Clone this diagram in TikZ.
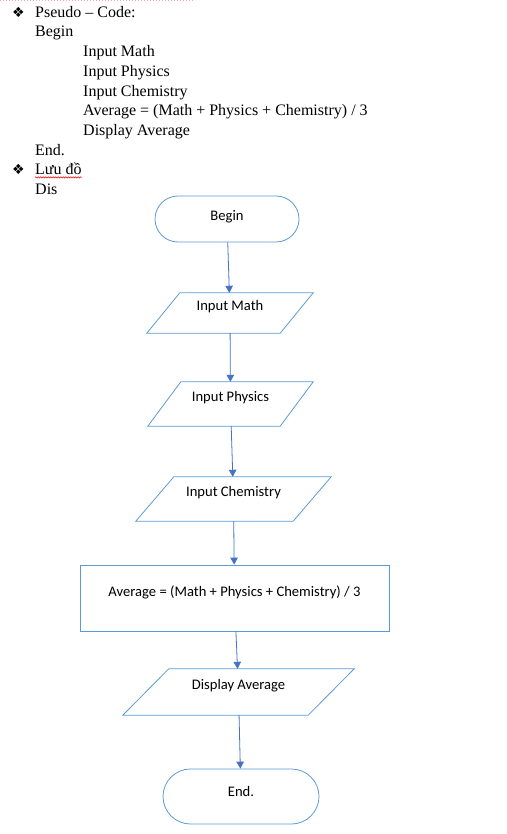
\documentclass[tikz,border=0pt]{standalone}
\usepackage{fontspec}
\setmainfont{Liberation Serif}
\newfontfamily\chartfont{Carlito}
\newfontfamily\dingfont{DejaVu Sans}
\usetikzlibrary{arrows.meta,decorations.pathmorphing}
\definecolor{lineblue}{HTML}{5B9BD5}
\definecolor{arrowblue}{HTML}{4472C4}

\begin{document}
\begin{tikzpicture}[
    x=1pt, y=-1pt,
    codeline/.style={anchor=base west, inner sep=0pt, font=\fontsize{16}{20}\selectfont},
    bulletsym/.style={anchor=base west, inner sep=0pt, font=\dingfont\fontsize{14}{16}\selectfont},
    every label/.style={font=\chartfont\fontsize{14.6}{17}\selectfont, inner sep=0pt},
    terminal/.style={draw=lineblue, line width=0.8pt, inner sep=0pt},
    io/.style={rectangle, inner sep=0pt,
        append after command={\pgfextra{\draw[lineblue, line width=0.8pt]
            ([xshift=#1/2]\tikzlastnode.north west) -- ([xshift=#1/2]\tikzlastnode.north east)
            -- ([xshift=-#1/2]\tikzlastnode.south east) -- ([xshift=-#1/2]\tikzlastnode.south west)
            -- cycle;}}},
    process/.style={rectangle, draw=lineblue, line width=0.8pt, inner sep=0pt},
    arrow/.style={draw=arrowblue, line width=0.8pt, -{Triangle[width=7.5pt,length=7pt]}}
]
\useasboundingbox (0,0) rectangle (506,834);

% spell check marks
\draw[red!35, dotted, line width=1pt] (0,0.8) -- (195,0.8);

% pseudo code
\node[bulletsym] (b1) at (12,17.3) {❖};
\node[codeline] (pseudo) at (35,17.3) {Pseudo – Code:};
\node[codeline] (cbegin) at (35,37) {Begin};
\node[codeline] (cmath) at (83,56.7) {Input Math};
\node[codeline] (cphys) at (83,76.4) {Input Physics};
\node[codeline] (cchem) at (83,96.1) {Input Chemistry};
\node[codeline] (cavg) at (83,115.8) {Average = (Math + Physics + Chemistry) / 3};
\node[codeline] (cdisp) at (83,135.5) {Display Average};
\node[codeline] (cend) at (35,155.2) {End.};
\node[bulletsym] (b2) at (12,174.9) {❖};
\node[codeline] (luudo) at (35,174.9) {Lưu đồ};
\node[codeline] (dis) at (35,194.6) {Dis};
\draw[red, line width=0.5pt, decorate, decoration={snake, amplitude=0.7pt, segment length=2.5pt}]
    ([yshift=-2.5pt]luudo.base west) -- ([yshift=-2.5pt]luudo.base east);

% flowchart
\node[terminal, minimum width=144, minimum height=46, rounded corners=23,
      label={[yshift=2.5]center:Begin}] (begin) at (227,219) {};
\node[io=33, minimum width=133, minimum height=40,
      label={[yshift=6]center:Input Math}] (math) at (230,313) {};
\node[io=33, minimum width=132, minimum height=44,
      label={[yshift=6]center:Input Physics}] (phys) at (230.5,404) {};
\node[io=38, minimum width=157, minimum height=44,
      label={[yshift=6]center:Input Chemistry}] (chem) at (233.5,499) {};
\node[process, minimum width=309, minimum height=66,
      label={[yshift=6]center:Average = (Math + Physics + Chemistry) / 3}] (avg) at (234.5,598) {};
\node[io=46, minimum width=185, minimum height=46,
      label={[yshift=6]center:Display Average}] (disp) at (238.5,692) {};
\node[terminal, minimum width=156, minimum height=55, rounded corners=27.5,
      label={[yshift=5]center:End.}] (end) at (241,796.5) {};

\draw[arrow] (begin) -- (math);
\draw[arrow] (math) -- (phys);
\draw[arrow] (phys) -- (chem);
\draw[arrow] (chem) -- (avg);
\draw[arrow] (avg) -- (disp);
\draw[arrow] (disp) -- (end);
\end{tikzpicture}
\end{document}
